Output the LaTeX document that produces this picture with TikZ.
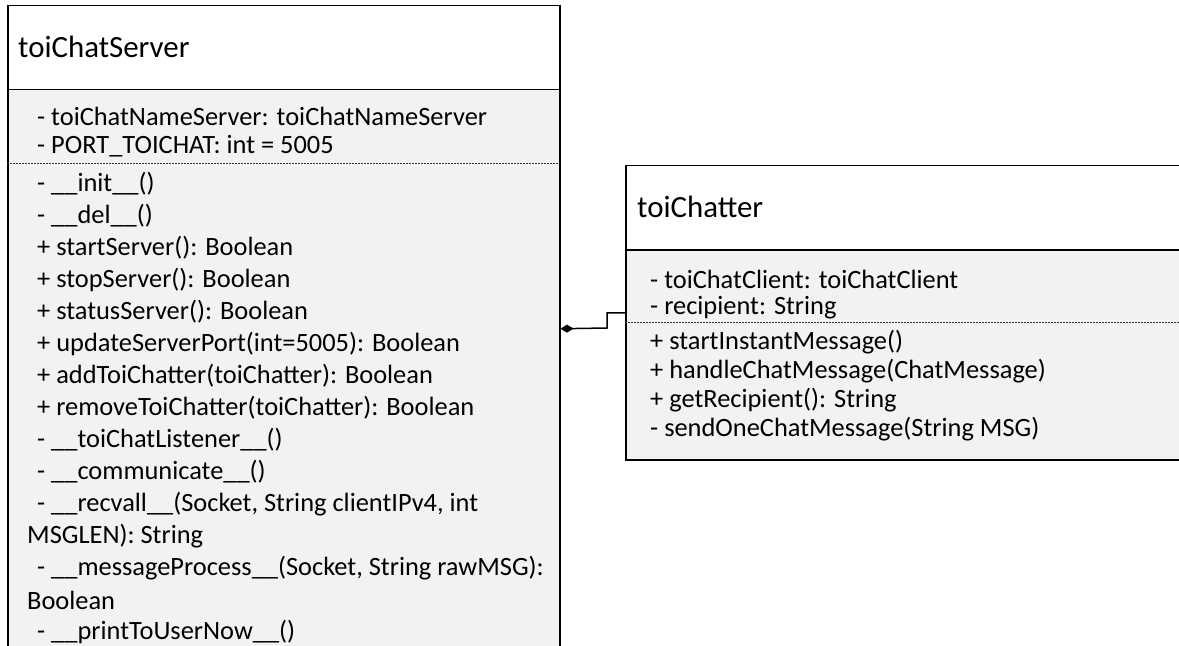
\documentclass[tikz,border=0pt]{standalone}
\usepackage{fontspec}
\setmainfont{Carlito}
\usetikzlibrary{arrows.meta}
\tikzset{
  classbox/.style={draw=black, line width=1.5bp, fill=black!5, inner sep=0pt, anchor=north west},
  headbox/.style={draw=black, line width=1.5bp, fill=white, inner sep=0pt, anchor=north west},
  title/.style={anchor=west, inner sep=0pt, font=\fontsize{31}{37}\selectfont},
  member/.style={anchor=west, inner sep=0pt, font=\fontsize{26.5}{32}\selectfont},
  sep/.style={draw=black!80, line width=0.8bp, dash pattern=on 2bp off 1bp},
  link/.style={draw=black, line width=1.5bp, {Diamond[length=13bp,width=8bp]}-}
}
\begin{document}
\begin{tikzpicture}[x=1bp,y=-1bp]
\useasboundingbox (0,0) rectangle (1179,646);
\clip (0,0) rectangle (1179,646);

% ---- toiChatServer ----
\node[classbox, minimum width=552bp, minimum height=646bp] (srv) at (7,5) {};
\node[headbox, minimum width=552bp, minimum height=84bp] (srvhead) at (7,5) {};
\node[title] (srvtitle) at (18,47) {toiChatServer};
\node[member] (s1) at (37,116) {- toiChatNameServer: toiChatNameServer};
\node[member] (s2) at (37,146) {- PORT\_TOICHAT: int = 5005};
\draw[sep] (7,163) -- (559,163);
\node[member] (m1)  at (37,184) {- \_\_init\_\_()};
\node[member] (m2)  at (37,216) {- \_\_del\_\_()};
\node[member] (m3)  at (37,248) {+ startServer(): Boolean};
\node[member] (m4)  at (37,280) {+ stopServer(): Boolean};
\node[member] (m5)  at (37,312) {+ statusServer(): Boolean};
\node[member] (m6)  at (37,344) {+ updateServerPort(int=5005): Boolean};
\node[member] (m7)  at (37,376) {+ addToiChatter(toiChatter): Boolean};
\node[member] (m8)  at (37,408) {+ removeToiChatter(toiChatter): Boolean};
\node[member] (m9)  at (37,440) {- \_\_toiChatListener\_\_()};
\node[member] (m10) at (37,472) {- \_\_communicate\_\_()};
\node[member] (m11) at (37,504) {- \_\_recvall\_\_(Socket, String clientIPv4, int};
\node[member] (m12) at (27,536) {MSGLEN): String};
\node[member] (m13) at (37,568) {- \_\_messageProcess\_\_(Socket, String rawMSG):};
\node[member] (m14) at (27,600) {Boolean};
\node[member] (m15) at (37,632) {- \_\_printToUserNow\_\_()};

% ---- toiChatter ----
\node[classbox, minimum width=570bp, minimum height=294bp] (chat) at (625,165) {};
\node[headbox, minimum width=570bp, minimum height=84bp] (chathead) at (625,165) {};
\node[title] (chattitle) at (637,207) {toiChatter};
\node[member] (c1) at (650,279) {- toiChatClient: toiChatClient};
\node[member] (c2) at (650,308) {- recipient: String};
\draw[sep] (625,322) -- (1179,322);
\node[member] (c3) at (650,342) {+ startInstantMessage()};
\node[member] (c4) at (650,371) {+ handleChatMessage(ChatMessage)};
\node[member] (c5) at (650,400) {+ getRecipient(): String};
\node[member] (c6) at (650,429) {- sendOneChatMessage(String MSG)};

% ---- composition link ----
\coordinate (bend) at (607,328);
\draw[link] (srv.east) -- (bend) |- (chat.west);
\end{tikzpicture}
\end{document}
